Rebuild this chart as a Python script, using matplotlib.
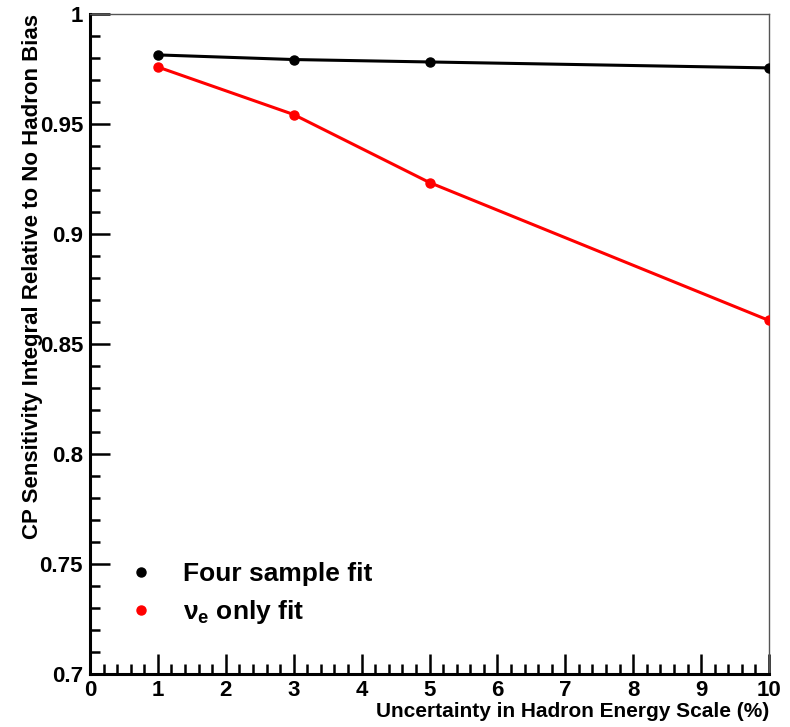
import matplotlib
matplotlib.use("Agg")
import matplotlib.pyplot as plt
from matplotlib.ticker import MultipleLocator
from matplotlib.lines import Line2D

plt.rcParams['font.family'] = ['Liberation Sans', 'DejaVu Sans']
plt.rcParams['mathtext.fontset'] = 'custom'
plt.rcParams['mathtext.rm'] = 'Liberation Sans:bold'
plt.rcParams['mathtext.it'] = 'Liberation Sans:bold'
plt.rcParams['mathtext.bf'] = 'Liberation Sans:bold'

uncertainty = [1, 3, 5, 10]
four_sample = [0.9814, 0.9793, 0.9782, 0.9755]
nue_only = [0.9759, 0.9543, 0.9234, 0.8607]
series_labels = ["Four sample fit", r"$\nu_\mathregular{e}$ only fit"]

fig = plt.figure(figsize=(7.9, 7.27), dpi=100)
ax = fig.add_axes([90/790, 1-674/727, (769-90)/790, (674-14)/727])

ax.plot(uncertainty, four_sample, color='black', lw=2.2, marker='o', ms=6.5, zorder=3)
ax.plot(uncertainty, nue_only, color='red', lw=2.2, marker='o', ms=6.5, zorder=3)

ax.set_xlim(0, 10)
ax.set_ylim(0.7, 1.0)
ax.xaxis.set_major_locator(MultipleLocator(1))
ax.xaxis.set_minor_locator(MultipleLocator(0.2))
ax.yaxis.set_major_locator(MultipleLocator(0.05))
ax.yaxis.set_minor_locator(MultipleLocator(0.01))
ax.set_yticks([0.7, 0.75, 0.8, 0.85, 0.9, 0.95, 1.0])
ax.set_yticklabels(['0.7', '0.75', '0.8', '0.85', '0.9', '0.95', '1'])

ax.tick_params(which='both', direction='in', top=False, right=False, width=1.8, color='black')
ax.tick_params(which='major', length=14.5, labelsize=16)
ax.tick_params(which='minor', length=7)
ax.tick_params(axis='x', which='major', pad=4)
ax.tick_params(axis='y', which='major', pad=5)
for lab in ax.get_xticklabels() + ax.get_yticklabels():
    lab.set_fontweight('bold')

for s in ['left', 'bottom']:
    ax.spines[s].set_linewidth(2.2)
    ax.spines[s].set_color('black')
for s in ['top', 'right']:
    ax.spines[s].set_linewidth(1.0)
    ax.spines[s].set_color('#555555')

ax.set_xlabel("Uncertainty in Hadron Energy Scale (%)", fontsize=15, fontweight='bold',
              loc='right', labelpad=1)
ax.set_ylabel("CP Sensitivity Integral Relative to No Hadron Bias", fontsize=16,
              fontweight='bold', loc='top')
ax.yaxis.set_label_coords(-0.069, 1.0)

handles = [Line2D([], [], ls='none', marker='o', color='black', ms=6.5),
           Line2D([], [], ls='none', marker='o', color='red', ms=6.5)]
leg = ax.legend(handles, series_labels, loc='lower left', bbox_to_anchor=(0.017, 0.053),
                frameon=False, prop={'family': 'Liberation Sans', 'weight': 'bold', 'size': 19},
                handletextpad=0.6, labelspacing=0.45, borderpad=0)

fig.savefig("out.png", dpi=100, facecolor='white')
